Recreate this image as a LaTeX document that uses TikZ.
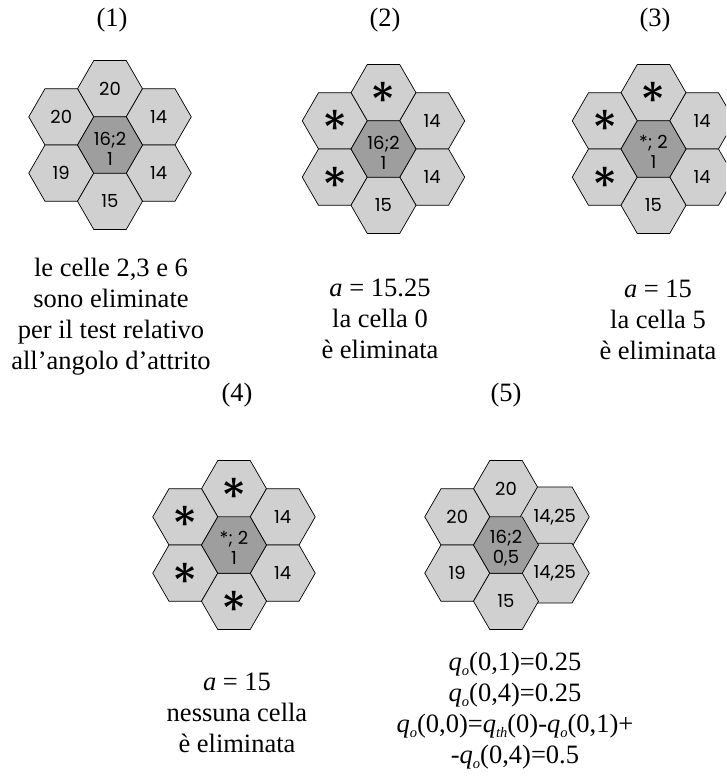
\documentclass[tikz,border=0pt]{standalone}
\usepackage{fontspec}
\setmainfont{Liberation Serif}
\newfontfamily\esafont{Poppins}
\usetikzlibrary{shapes.geometric}

\definecolor{grigiochiaro}{RGB}{208,208,208}
\definecolor{grigioscuro}{RGB}{158,158,158}

\tikzset{
  cella/.style={regular polygon, regular polygon sides=6, minimum size=65pt,
    inner sep=0pt, draw=black, line width=0.7pt, fill=grigiochiaro,
    align=center, font=\esafont\fontsize{18}{20.5}\selectfont},
  centro/.style={cella, fill=grigioscuro},
  etichetta/.style={align=center, inner sep=0pt, font=\esafont\fontsize{18}{20.5}\selectfont},
  titolo/.style={font=\fontsize{26.5}{31}\selectfont},
  testo/.style={align=center, font=\fontsize{26.5}{31}\selectfont},
}
\newcommand{\stella}{\raisebox{-9pt}[\height][\depth]{\fontsize{52}{52}\selectfont *}}
\newcommand{\pedice}[1]{\raisebox{-5pt}{\fontsize{14.5}{14.5}\selectfont\textit{#1}}}
\newcommand{\qo}{\textit{q}\pedice{o}}

\begin{document}
\begin{tikzpicture}[x=1pt, y=-1pt]

  \clip (0,0) rectangle (726,776);

  % --- Gruppo (1) ---
  \begin{scope}[shift={(110,145)}]
    \node[cella]  (c1n)  at (0,-56.3)       {20};
    \node[cella]  (c1no) at (-48.75,-28.15) {20};
    \node[cella]  (c1ne) at (48.75,-28.15)  {14};
    \node[cella]  (c1so) at (-48.75,28.15)  {19};
    \node[cella]  (c1se) at (48.75,28.15)   {14};
    \node[cella]  (c1s)  at (0,56.3)        {15};
    \node[centro] (c1c)  at (0,0)           {};
  \end{scope}
  \node[etichetta] (e1) at ([yshift=-4pt]c1c.center) {16;2\\1};
  \node[titolo] (t1) at (112,20) {(1)};
  \node[testo]  (d1) at (111,317) {le celle 2,3 e 6\\sono eliminate\\per il test relativo\\all’angolo d’attrito};

  % --- Gruppo (2) ---
  \begin{scope}[shift={(383.5,149)}]
    \node[cella]  (c2n)  at (0,-56.3)       {\stella};
    \node[cella]  (c2no) at (-48.75,-28.15) {\stella};
    \node[cella]  (c2ne) at (48.75,-28.15)  {14};
    \node[cella]  (c2so) at (-48.75,28.15)  {\stella};
    \node[cella]  (c2se) at (48.75,28.15)   {14};
    \node[cella]  (c2s)  at (0,56.3)        {15};
    \node[centro] (c2c)  at (0,0)           {};
  \end{scope}
  \node[etichetta] (e2) at ([yshift=-4pt]c2c.center) {16;2\\1};
  \node[titolo] (t2) at (385,20) {(2)};
  \node[testo]  (d2) at (380,319) {\textit{a} = 15.25\\la cella 0\\è eliminata};

  % --- Gruppo (3) ---
  \begin{scope}[shift={(653.5,149)}]
    \node[cella]  (c3n)  at (0,-56.3)       {\stella};
    \node[cella]  (c3no) at (-48.75,-28.15) {\stella};
    \node[cella]  (c3ne) at (48.75,-28.15)  {14};
    \node[cella]  (c3so) at (-48.75,28.15)  {\stella};
    \node[cella]  (c3se) at (48.75,28.15)   {14};
    \node[cella]  (c3s)  at (0,56.3)        {15};
    \node[centro] (c3c)  at (0,0)           {};
  \end{scope}
  \node[etichetta] (e3) at ([yshift=-3pt]c3c.center) {*; 2\\1};
  \node[titolo] (t3) at (655,20) {(3)};
  \node[testo]  (d3) at (658,320) {\textit{a} = 15\\la cella 5\\è eliminata};

  % --- Gruppo (4) ---
  \begin{scope}[shift={(234,545)}]
    \node[cella]  (c4n)  at (0,-56.3)       {\stella};
    \node[cella]  (c4no) at (-48.75,-28.15) {\stella};
    \node[cella]  (c4ne) at (48.75,-28.15)  {14};
    \node[cella]  (c4so) at (-48.75,28.15)  {\stella};
    \node[cella]  (c4se) at (48.75,28.15)   {14};
    \node[cella]  (c4s)  at (0,56.3)        {\stella};
    \node[centro] (c4c)  at (0,0)           {};
  \end{scope}
  \node[etichetta] (e4) at ([yshift=-3pt]c4c.center) {*; 2\\1};
  \node[titolo] (t4) at (237,395) {(4)};
  \node[testo]  (d4) at (237,713) {\textit{a} = 15\\nessuna cella\\è eliminata};

  % --- Gruppo (5) ---
  \begin{scope}[shift={(506,545)}]
    \node[cella]  (c5n)  at (0,-56.3)       {20};
    \node[cella]  (c5no) at (-48.75,-28.15) {20};
    \node[cella]  (c5ne) at (48.75,-28.15)  {14,25};
    \node[cella]  (c5so) at (-48.75,28.15)  {19};
    \node[cella]  (c5se) at (48.75,28.15)   {14,25};
    \node[cella]  (c5s)  at (0,56.3)        {15};
    \node[centro] (c5c)  at (0,0)           {};
  \end{scope}
  \node[etichetta] (e5) at ([yshift=-3pt]c5c.center) {16;2\\0,5};
  \node[titolo] (t5) at (506,395) {(5)};
  \node[testo]  (d5) at (515,711) {\qo(0,1)=0.25\\\qo(0,4)=0.25\\\qo(0,0)=\textit{q}\pedice{th}(0)-\qo(0,1)+\\-\qo(0,4)=0.5};

\end{tikzpicture}
\end{document}
